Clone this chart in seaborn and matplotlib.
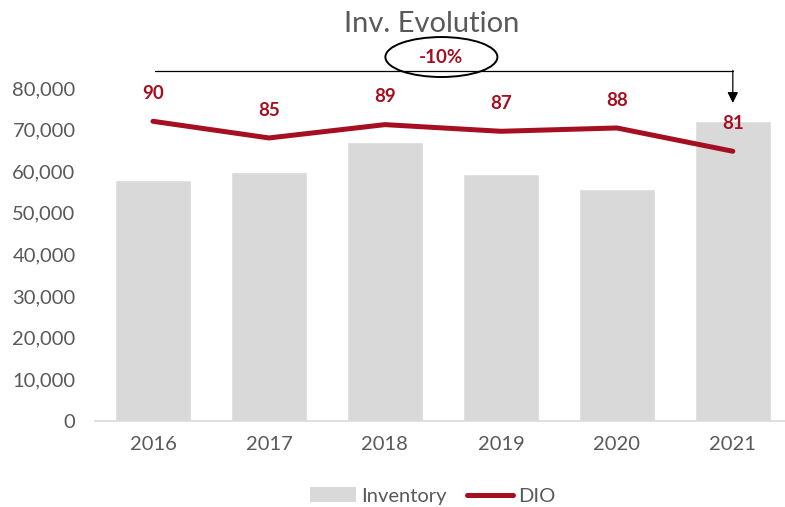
import numpy as np
import pandas as pd
import seaborn as sns
import matplotlib.pyplot as plt
from matplotlib.patches import Ellipse, Patch
from matplotlib.lines import Line2D
from matplotlib.transforms import blended_transform_factory

# data
years = ["2016", "2017", "2018", "2019", "2020", "2021"]
inventory = [57900, 59800, 67000, 59400, 55700, 72100]
dio = [90, 85, 89, 87, 88, 81]
change_label = "-10%"

bar_color = "#D9D9D9"
line_color = "#A50F21"
text_gray = "#595959"

sns.set_theme(style="white")
plt.rcParams["font.family"] = ["Lato", "DejaVu Sans"]

df = pd.DataFrame({"year": years, "inventory": inventory, "dio": dio})

fig = plt.figure(figsize=(7.85, 5.07), dpi=100)
ax = fig.add_axes([95 / 785, 1 - 421 / 507, 1 - 95 / 785, 333 / 507])

sns.barplot(data=df, x="year", y="inventory", color=bar_color, width=0.66,
            saturation=1, ax=ax)
ax.set_ylim(0, 80000)
ax.set_yticks(np.arange(0, 80001, 10000))
ax.set_yticklabels([f"{v:,}" for v in range(0, 80001, 10000)])
ax.set_xlabel("")
ax.set_ylabel("")
ax.tick_params(axis="both", length=0, labelsize=14.5, labelcolor=text_gray)
ax.tick_params(axis="x", pad=11)
ax.tick_params(axis="y", pad=14)
for side in ["top", "right", "left"]:
    ax.spines[side].set_visible(False)
ax.spines["bottom"].set_color(bar_color)
ax.spines["bottom"].set_linewidth(1.2)

# DIO on a hidden secondary axis
ax2 = ax.twinx()
sns.pointplot(data=df, x="year", y="dio", color=line_color, markers="",
              errorbar=None, linewidth=3.6, ax=ax2)
ax2.set_ylim(0, 100)
ax2.set_ylabel("")
ax2.set_yticks([])
for side in ["top", "right", "left", "bottom"]:
    ax2.spines[side].set_visible(False)
for i, v in enumerate(dio):
    ax2.annotate(str(v), (i, v), xytext=(0, 14), textcoords="offset points",
                 ha="center", va="bottom", color=line_color,
                 fontsize=13.5, fontweight="bold")

xlim = (-0.5, 5.45)
ax.set_xlim(xlim)
ax2.set_xlim(xlim)

# change bracket from 2016 to 2021
tr = blended_transform_factory(ax.transData, ax.transAxes)
ax.plot([0.02, 5], [1.051, 1.051], transform=tr, color="black", lw=0.9,
        clip_on=False)
ax.annotate("", xy=(5, 0.955), xycoords=tr, xytext=(5, 1.053), textcoords=tr,
            arrowprops=dict(arrowstyle="-|>", color="black", lw=0.9,
                            mutation_scale=16, shrinkA=0, shrinkB=0),
            annotation_clip=False)
ax.add_patch(Ellipse((2.487, 1.093), 0.966, 0.12, transform=tr,
                     fill=False, edgecolor="black", lw=1.4, clip_on=False))
ax.text(2.487, 1.093, change_label, transform=tr, ha="center", va="center",
        color=line_color, fontsize=13.5, fontweight="bold")

fig.text(432 / 785, 1 - 24 / 507, "Inv. Evolution", ha="center", va="center",
         fontsize=21, color=text_gray)

handles = [Patch(facecolor=bar_color, edgecolor="none"),
           Line2D([0], [0], color=line_color, lw=3.6)]
fig.legend(handles, ["Inventory", "DIO"], loc="center",
           bbox_to_anchor=(433 / 785, 1 - 496 / 507), ncol=2, frameon=False,
           fontsize=14.5, labelcolor=text_gray, handlelength=2.3,
           handletextpad=0.25, columnspacing=1.0)

fig.savefig("out.png", dpi=100)
